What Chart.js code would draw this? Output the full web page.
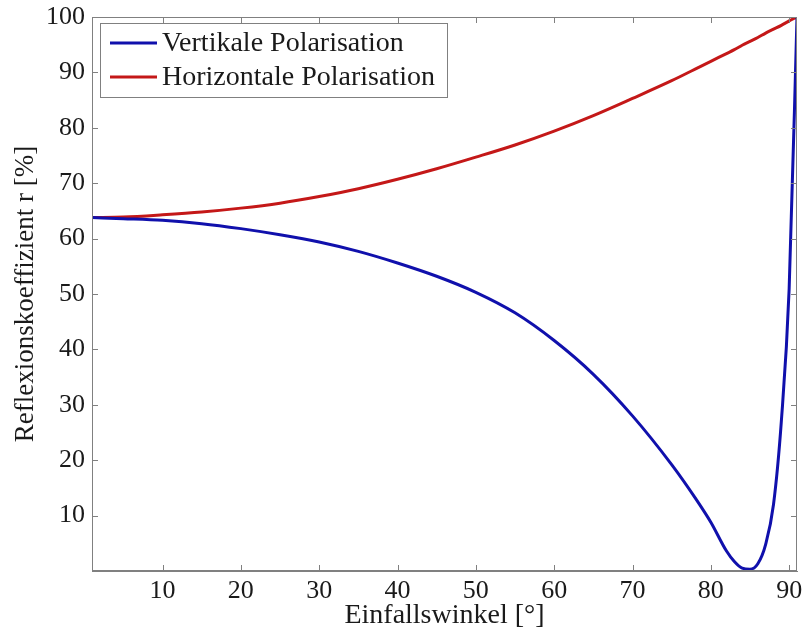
<!DOCTYPE html>
<html>
<head>
<meta charset="utf-8">
<script src="https://cdn.jsdelivr.net/npm/chart.js@4.4.1/dist/chart.umd.min.js"></script>
<style>
  html, body { margin: 0; padding: 0; background: #fff; }
  #wrap { width: 803px; height: 638px; }
</style>
</head>
<body>
<div id="wrap"><canvas id="myChart" width="803" height="638"></canvas></div>
<script>
// angle values (x) and reflection coefficient in %
const angles = [1, 5, 10, 15, 20, 25, 30, 35, 40, 45, 50, 55, 60, 65, 70, 75, 78, 80, 82, 83, 84, 85, 86, 87, 88, 89, 90, 91];
const vertikal = [63.8, 63.6, 63.3, 62.7, 61.8, 60.7, 59.4, 57.7, 55.6, 53.2, 50.3, 46.6, 41.6, 35.5, 28.0, 19.2, 13.2, 8.8, 3.6, 1.7, 0.5, 0.3, 1.3, 4.8, 12, 27, 51, 100];
const horizontal = [63.8, 63.9, 64.3, 64.8, 65.5, 66.4, 67.6, 69.0, 70.7, 72.6, 74.7, 76.9, 79.4, 82.2, 85.3, 88.5, 90.6, 92.0, 93.4, 94.1, 94.9, 95.6, 96.3, 97.1, 97.8, 98.5, 99.3, 100];
const xTicks = [10, 20, 30, 40, 50, 60, 70, 80, 90];
const yTicks = [10, 20, 30, 40, 50, 60, 70, 80, 90, 100];
const seriesNames = ['Vertikale Polarisation', 'Horizontale Polarisation'];
const seriesColors = ['#1010ac', '#c41818'];

const serif = "'Liberation Serif', 'Times New Roman', serif";
const axisGray = '#808080';
const textColor = '#1a1a1a';

function toPoints(ys) {
  return angles.map((a, i) => ({ x: a, y: ys[i] }));
}

// MATLAB style box with inward ticks, plus the boxed legend
const frame = {
  id: 'frame',
  afterDatasetsDraw(chart) {
    const ctx = chart.ctx;
    const a = chart.chartArea;
    const xs = chart.scales.x, ys = chart.scales.y;
    const len = 6;
    ctx.save();
    ctx.strokeStyle = axisGray;
    ctx.lineWidth = 1;
    ctx.strokeRect(a.left + 0.5, a.top + 0.5, a.right - a.left - 1, a.bottom - a.top - 1);
    ctx.beginPath();
    xTicks.forEach(v => {
      const px = Math.round(xs.getPixelForValue(v)) + 0.5;
      ctx.moveTo(px, a.bottom); ctx.lineTo(px, a.bottom - len);
      ctx.moveTo(px, a.top); ctx.lineTo(px, a.top + len);
    });
    yTicks.forEach(v => {
      const py = Math.round(ys.getPixelForValue(v)) + 0.5;
      ctx.moveTo(a.left, py); ctx.lineTo(a.left + len, py);
      ctx.moveTo(a.right, py); ctx.lineTo(a.right - len, py);
    });
    ctx.stroke();

    // legend
    const bx = a.left + 8, by = a.top + 6, bw = 347, bh = 74;
    ctx.fillStyle = '#fff';
    ctx.fillRect(bx, by, bw, bh);
    ctx.strokeStyle = axisGray;
    ctx.strokeRect(bx + 0.5, by + 0.5, bw, bh);
    ctx.font = '28px ' + serif;
    ctx.textBaseline = 'middle';
    ctx.textAlign = 'left';
    seriesNames.forEach((name, i) => {
      const yy = by + 20 + i * 34;
      ctx.strokeStyle = seriesColors[i];
      ctx.lineWidth = 3;
      ctx.beginPath();
      ctx.moveTo(bx + 10, yy); ctx.lineTo(bx + 57, yy);
      ctx.stroke();
      ctx.fillStyle = textColor;
      ctx.fillText(name, bx + 62, yy + 1);
    });
    ctx.restore();
  }
};

const data = {
  datasets: [
    {
      label: seriesNames[0],
      data: toPoints(vertikal),
      borderColor: seriesColors[0],
      borderWidth: 3,
      pointRadius: 0,
      cubicInterpolationMode: 'monotone'
    },
    {
      label: seriesNames[1],
      data: toPoints(horizontal),
      borderColor: seriesColors[1],
      borderWidth: 3,
      pointRadius: 0,
      cubicInterpolationMode: 'monotone'
    }
  ]
};

const config = {
  type: 'line',
  data: data,
  options: {
    responsive: false,
    animation: false,
    layout: { padding: { top: 17, right: 6, left: 0, bottom: 0 } },
    plugins: { legend: { display: false }, tooltip: { enabled: false } },
    scales: {
      x: {
        type: 'linear',
        min: 1,
        max: 91,
        afterBuildTicks: s => { s.ticks = xTicks.map(v => ({ value: v })); },
        afterFit: s => { s.height = 67; s.paddingLeft = 0; s.paddingRight = 0; },
        grid: { display: true, drawOnChartArea: false, drawTicks: false },
        border: { color: axisGray },
        ticks: { font: { family: serif, size: 26 }, color: textColor, padding: 5, maxRotation: 0 },
        title: { display: true, text: 'Einfallswinkel [°]', font: { family: serif, size: 28 }, color: textColor, padding: { top: 0, bottom: 6 } }
      },
      y: {
        min: 0,
        max: 100,
        afterBuildTicks: s => { s.ticks = yTicks.map(v => ({ value: v })); },
        afterFit: s => { s.width = 92; s.paddingTop = 0; s.paddingBottom = 0; },
        grid: { display: true, drawOnChartArea: false, drawTicks: false },
        border: { color: axisGray },
        ticks: { font: { family: serif, size: 26 }, color: textColor, padding: 7 },
        title: { display: true, text: 'Reflexionskoeffizient r [%]', font: { family: serif, size: 27 }, color: textColor, padding: { top: 10, bottom: 0 } }
      }
    }
  },
  plugins: [frame]
};

const myChart = new Chart(document.getElementById('myChart'), config);
</script>
</body>
</html>
